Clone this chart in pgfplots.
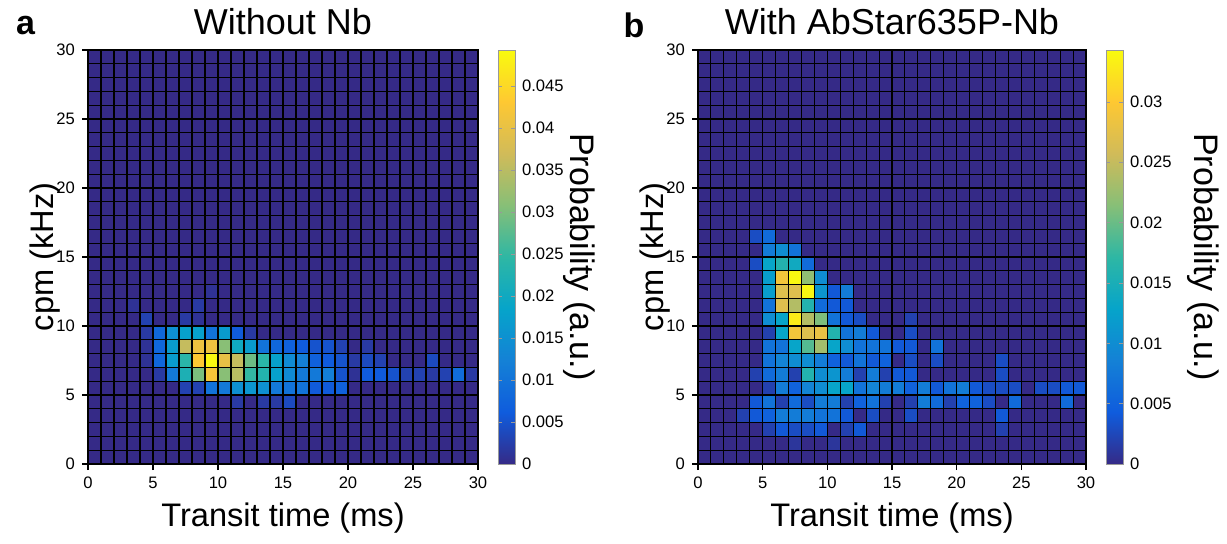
\documentclass[border=0pt]{standalone}
\usepackage{fontspec}
\setmainfont{Liberation Sans}
\usepackage{pgfplots}
\usepackage{pgfplotstable}
\pgfplotsset{compat=1.18}
\pgfplotsset{colormap={parula}{rgb255=(53,42,135) rgb255=(15,92,221) rgb255=(20,129,214) rgb255=(6,164,202) rgb255=(46,183,164) rgb255=(135,191,119) rgb255=(209,187,89) rgb255=(254,200,50) rgb255=(249,251,14)}}

% left panel: value of each cell at its lower-left corner; 31 x 31 corners
% row j = 0 (bottom) ... 30, each row i = 0..30 (last column and row only close the grid)
\pgfplotstableread[row sep=\\,header=false]{
0\\0\\0\\0\\0\\0\\0\\0\\0\\0\\0\\0\\0\\0\\0\\0\\0\\0\\0\\0\\0\\0\\0\\0\\0\\0\\0\\0\\0\\0\\0\\
0\\0\\0\\0\\0\\0\\0\\0\\0\\0\\0\\0\\0\\0\\0\\0\\0\\0\\0\\0\\0\\0\\0\\0\\0\\0\\0\\0\\0\\0\\0\\
0\\0\\0\\0\\0\\0\\0\\0\\0\\0\\0\\0\\0\\0\\0\\0\\0\\0\\0\\0\\0\\0\\0\\0\\0\\0\\0\\0\\0\\0\\0\\
0\\0\\0\\0\\0\\0\\0\\0\\0\\0\\0\\0\\0\\0\\0\\0\\0\\0\\0\\0\\0\\0\\0\\0\\0\\0\\0\\0\\0\\0\\0\\
0\\0\\0\\0\\0\\0\\0\\0\\0\\0\\0\\0.002\\0\\0.002\\0.002\\0.004\\0\\0\\0\\0\\0\\0\\0\\0\\0\\0\\0\\0\\0\\0\\0\\
0\\0\\0\\0\\0\\0\\0\\0.003\\0.003\\0.010\\0.011\\0.015\\0.016\\0.015\\0.011\\0.010\\0.010\\0.006\\0.006\\0.007\\0\\0\\0\\0\\0\\0\\0\\0\\0\\0\\0\\
0\\0\\0\\0\\0\\0.002\\0.011\\0.022\\0.030\\0.042\\0.031\\0.035\\0.025\\0.023\\0.018\\0.014\\0.011\\0.011\\0.012\\0.005\\0.001\\0.006\\0.006\\0.005\\0.003\\0.003\\0.002\\0.003\\0.009\\0.002\\0\\
0\\0\\0\\0\\0.001\\0.008\\0.017\\0.024\\0.043\\0.049\\0.040\\0.036\\0.029\\0.024\\0.018\\0.014\\0.012\\0.007\\0.006\\0.005\\0.002\\0.004\\0.003\\0\\0\\0\\0.004\\0\\0\\0\\0\\
0\\0\\0\\0\\0.001\\0.008\\0.017\\0.036\\0.041\\0.041\\0.031\\0.020\\0.017\\0.010\\0.008\\0.007\\0.006\\0.005\\0.005\\0.003\\0\\0.002\\0\\0\\0\\0\\0\\0\\0\\0\\0\\
0\\0\\0\\0\\0.002\\0.008\\0.015\\0.018\\0.018\\0.010\\0.017\\0.006\\0.002\\0\\0\\0\\0\\0\\0\\0\\0\\0\\0\\0\\0\\0\\0\\0\\0\\0\\0\\
0\\0\\0\\0\\0.003\\0\\0\\0.002\\0.001\\0\\0\\0\\0\\0\\0\\0\\0\\0\\0\\0\\0\\0\\0\\0\\0\\0\\0\\0\\0\\0\\0\\
0\\0\\0\\0.001\\0\\0\\0\\0\\0.002\\0\\0\\0\\0\\0\\0\\0\\0\\0\\0\\0\\0\\0\\0\\0\\0\\0\\0\\0\\0\\0\\0\\
0\\0\\0\\0\\0\\0\\0\\0\\0\\0.001\\0\\0\\0\\0\\0\\0\\0\\0\\0\\0\\0\\0\\0\\0\\0\\0\\0\\0\\0\\0\\0\\
0\\0\\0\\0\\0\\0\\0\\0\\0\\0\\0\\0\\0\\0\\0\\0\\0\\0\\0\\0\\0\\0\\0\\0\\0\\0\\0\\0\\0\\0\\0\\
0\\0\\0\\0\\0\\0\\0\\0\\0\\0\\0\\0\\0\\0\\0\\0\\0\\0\\0\\0\\0\\0\\0\\0\\0\\0\\0\\0\\0\\0\\0\\
0\\0\\0\\0\\0\\0\\0\\0\\0\\0\\0\\0\\0\\0\\0\\0\\0\\0\\0\\0\\0\\0\\0\\0\\0\\0\\0\\0\\0\\0\\0\\
0\\0\\0\\0\\0\\0\\0\\0\\0\\0\\0\\0\\0\\0\\0\\0\\0\\0\\0\\0\\0\\0\\0\\0\\0\\0\\0\\0\\0\\0\\0\\
0\\0\\0\\0\\0\\0\\0\\0\\0\\0\\0\\0\\0\\0\\0\\0\\0\\0\\0\\0\\0\\0\\0\\0\\0\\0\\0\\0\\0\\0\\0\\
0\\0\\0\\0\\0\\0\\0\\0\\0\\0\\0\\0\\0\\0\\0\\0\\0\\0\\0\\0\\0\\0\\0\\0\\0\\0\\0\\0\\0\\0\\0\\
0\\0\\0\\0\\0\\0\\0\\0\\0\\0\\0\\0\\0\\0\\0\\0\\0\\0\\0\\0\\0\\0\\0\\0\\0\\0\\0\\0\\0\\0\\0\\
0\\0\\0\\0\\0\\0\\0\\0\\0\\0\\0\\0\\0\\0\\0\\0\\0\\0\\0\\0\\0\\0\\0\\0\\0\\0\\0\\0\\0\\0\\0\\
0\\0\\0\\0\\0\\0\\0\\0\\0\\0\\0\\0\\0\\0\\0\\0\\0\\0\\0\\0\\0\\0\\0\\0\\0\\0\\0\\0\\0\\0\\0\\
0\\0\\0\\0\\0\\0\\0\\0\\0\\0\\0\\0\\0\\0\\0\\0\\0\\0\\0\\0\\0\\0\\0\\0\\0\\0\\0\\0\\0\\0\\0\\
0\\0\\0\\0\\0\\0\\0\\0\\0\\0\\0\\0\\0\\0\\0\\0\\0\\0\\0\\0\\0\\0\\0\\0\\0\\0\\0\\0\\0\\0\\0\\
0\\0\\0\\0\\0\\0\\0\\0\\0\\0\\0\\0\\0\\0\\0\\0\\0\\0\\0\\0\\0\\0\\0\\0\\0\\0\\0\\0\\0\\0\\0\\
0\\0\\0\\0\\0\\0\\0\\0\\0\\0\\0\\0\\0\\0\\0\\0\\0\\0\\0\\0\\0\\0\\0\\0\\0\\0\\0\\0\\0\\0\\0\\
0\\0\\0\\0\\0\\0\\0\\0\\0\\0\\0\\0\\0\\0\\0\\0\\0\\0\\0\\0\\0\\0\\0\\0\\0\\0\\0\\0\\0\\0\\0\\
0\\0\\0\\0\\0\\0\\0\\0\\0\\0\\0\\0\\0\\0\\0\\0\\0\\0\\0\\0\\0\\0\\0\\0\\0\\0\\0\\0\\0\\0\\0\\
0\\0\\0\\0\\0\\0\\0\\0\\0\\0\\0\\0\\0\\0\\0\\0\\0\\0\\0\\0\\0\\0\\0\\0\\0\\0\\0\\0\\0\\0\\0\\
0\\0\\0\\0\\0\\0\\0\\0\\0\\0\\0\\0\\0\\0\\0\\0\\0\\0\\0\\0\\0\\0\\0\\0\\0\\0\\0\\0\\0\\0\\0\\
0\\0\\0\\0\\0\\0\\0\\0\\0\\0\\0\\0\\0\\0\\0\\0\\0\\0\\0\\0\\0\\0\\0\\0\\0\\0\\0\\0\\0\\0\\0\\
}\lefttab

% right panel
\pgfplotstableread[row sep=\\,header=false]{
0\\0\\0\\0\\0\\0\\0\\0\\0\\0\\0\\0\\0\\0\\0\\0\\0\\0\\0\\0\\0\\0\\0\\0\\0\\0\\0\\0\\0\\0\\0\\
0\\0\\0\\0\\0\\0\\0\\0.001\\0\\0\\0.001\\0\\0\\0\\0\\0\\0\\0\\0\\0\\0\\0\\0\\0\\0\\0\\0\\0\\0\\0\\0\\
0\\0\\0\\0\\0\\0.002\\0.004\\0.003\\0.003\\0.004\\0\\0.002\\0.004\\0\\0\\0\\0\\0\\0\\0\\0\\0\\0\\0.002\\0\\0\\0\\0\\0\\0\\0\\
0\\0\\0\\0.002\\0.004\\0.005\\0.008\\0.008\\0.008\\0.007\\0.007\\0.004\\0\\0.003\\0\\0\\0.003\\0\\0\\0\\0\\0\\0\\0.004\\0\\0\\0\\0\\0\\0\\0\\
0\\0\\0\\0\\0.004\\0.007\\0.002\\0.006\\0.003\\0.008\\0.008\\0.002\\0.005\\0.007\\0.002\\0\\0.002\\0.008\\0.006\\0.002\\0.005\\0.005\\0.003\\0\\0.006\\0\\0\\0\\0.006\\0\\0\\
0\\0\\0\\0\\0\\0.002\\0.008\\0.005\\0.009\\0.010\\0.013\\0.013\\0.007\\0.009\\0.008\\0.008\\0.005\\0.008\\0.004\\0.007\\0.008\\0.004\\0.003\\0.003\\0.003\\0\\0.003\\0.003\\0.004\\0.004\\0\\
0\\0\\0\\0\\0.002\\0.006\\0.008\\0.002\\0.016\\0.010\\0.011\\0.008\\0.002\\0.008\\0.002\\0.004\\0.004\\0\\0\\0\\0\\0\\0\\0.003\\0\\0\\0\\0\\0\\0\\0\\
0\\0\\0\\0\\0\\0.007\\0.009\\0.010\\0.010\\0.008\\0.005\\0.004\\0.007\\0.004\\0.005\\0\\0.003\\0\\0.003\\0\\0\\0\\0\\0.003\\0\\0\\0\\0\\0\\0\\0\\
0\\0\\0\\0\\0\\0.007\\0.007\\0.013\\0.019\\0.023\\0.013\\0.010\\0.007\\0.007\\0.007\\0.004\\0.004\\0\\0.007\\0\\0\\0\\0\\0\\0\\0\\0\\0\\0\\0\\0\\
0\\0\\0\\0\\0\\0.002\\0.013\\0.029\\0.027\\0.028\\0.016\\0.007\\0.008\\0.004\\0\\0\\0.003\\0\\0\\0\\0\\0\\0\\0\\0\\0\\0\\0\\0\\0\\0\\
0\\0\\0\\0\\0\\0.010\\0.013\\0.033\\0.024\\0.021\\0.007\\0.004\\0.003\\0\\0\\0\\0.002\\0\\0\\0\\0\\0\\0\\0\\0\\0\\0\\0\\0\\0\\0\\
0\\0\\0\\0\\0\\0.007\\0.027\\0.024\\0.016\\0.006\\0.004\\0.004\\0\\0\\0\\0\\0\\0\\0\\0\\0\\0\\0\\0\\0\\0\\0\\0\\0\\0\\0\\
0\\0\\0\\0\\0\\0.012\\0.027\\0.027\\0.034\\0.011\\0.004\\0.008\\0\\0\\0\\0\\0\\0\\0\\0\\0\\0\\0\\0\\0\\0\\0\\0\\0\\0\\0\\
0\\0\\0\\0\\0\\0.012\\0.029\\0.034\\0.022\\0.010\\0\\0\\0\\0\\0\\0\\0\\0\\0\\0\\0\\0\\0\\0\\0\\0\\0\\0\\0\\0\\0\\
0\\0\\0\\0\\0.003\\0.013\\0.016\\0.014\\0.006\\0\\0\\0\\0\\0\\0\\0\\0\\0\\0\\0\\0\\0\\0\\0\\0\\0\\0\\0\\0\\0\\0\\
0\\0\\0\\0\\0\\0.008\\0.010\\0.007\\0\\0\\0\\0\\0\\0\\0\\0\\0\\0\\0\\0\\0\\0\\0\\0\\0\\0\\0\\0\\0\\0\\0\\
0\\0\\0\\0\\0.003\\0.006\\0\\0\\0\\0\\0\\0\\0\\0\\0\\0\\0\\0\\0\\0\\0\\0\\0\\0\\0\\0\\0\\0\\0\\0\\0\\
0\\0\\0\\0\\0\\0\\0\\0\\0\\0\\0\\0\\0\\0\\0\\0\\0\\0\\0\\0\\0\\0\\0\\0\\0\\0\\0\\0\\0\\0\\0\\
0\\0\\0\\0\\0\\0\\0\\0\\0\\0\\0\\0\\0\\0\\0\\0\\0\\0\\0\\0\\0\\0\\0\\0\\0\\0\\0\\0\\0\\0\\0\\
0\\0\\0\\0\\0\\0\\0\\0\\0\\0\\0\\0\\0\\0\\0\\0\\0\\0\\0\\0\\0\\0\\0\\0\\0\\0\\0\\0\\0\\0\\0\\
0\\0\\0\\0\\0\\0\\0\\0\\0\\0\\0\\0\\0\\0\\0\\0\\0\\0\\0\\0\\0\\0\\0\\0\\0\\0\\0\\0\\0\\0\\0\\
0\\0\\0\\0\\0\\0\\0\\0\\0\\0\\0\\0\\0\\0\\0\\0\\0\\0\\0\\0\\0\\0\\0\\0\\0\\0\\0\\0\\0\\0\\0\\
0\\0\\0\\0\\0\\0\\0\\0\\0\\0\\0\\0\\0\\0\\0\\0\\0\\0\\0\\0\\0\\0\\0\\0\\0\\0\\0\\0\\0\\0\\0\\
0\\0\\0\\0\\0\\0\\0\\0\\0\\0\\0\\0\\0\\0\\0\\0\\0\\0\\0\\0\\0\\0\\0\\0\\0\\0\\0\\0\\0\\0\\0\\
0\\0\\0\\0\\0\\0\\0\\0\\0\\0\\0\\0\\0\\0\\0\\0\\0\\0\\0\\0\\0\\0\\0\\0\\0\\0\\0\\0\\0\\0\\0\\
0\\0\\0\\0\\0\\0\\0\\0\\0\\0\\0\\0\\0\\0\\0\\0\\0\\0\\0\\0\\0\\0\\0\\0\\0\\0\\0\\0\\0\\0\\0\\
0\\0\\0\\0\\0\\0\\0\\0\\0\\0\\0\\0\\0\\0\\0\\0\\0\\0\\0\\0\\0\\0\\0\\0\\0\\0\\0\\0\\0\\0\\0\\
0\\0\\0\\0\\0\\0\\0\\0\\0\\0\\0\\0\\0\\0\\0\\0\\0\\0\\0\\0\\0\\0\\0\\0\\0\\0\\0\\0\\0\\0\\0\\
0\\0\\0\\0\\0\\0\\0\\0\\0\\0\\0\\0\\0\\0\\0\\0\\0\\0\\0\\0\\0\\0\\0\\0\\0\\0\\0\\0\\0\\0\\0\\
0\\0\\0\\0\\0\\0\\0\\0\\0\\0\\0\\0\\0\\0\\0\\0\\0\\0\\0\\0\\0\\0\\0\\0\\0\\0\\0\\0\\0\\0\\0\\
0\\0\\0\\0\\0\\0\\0\\0\\0\\0\\0\\0\\0\\0\\0\\0\\0\\0\\0\\0\\0\\0\\0\\0\\0\\0\\0\\0\\0\\0\\0\\
}\righttab

\pgfplotsset{
  heat/.style={
    scale only axis, width=#1, height=207pt,
    xmin=0, xmax=30, ymin=0, ymax=30, y dir=normal,
    xtick={0,1,...,30}, ytick={0,1,...,30},
    xticklabels={0,,,,,5,,,,,10,,,,,15,,,,,20,,,,,25,,,,,30},
    yticklabels={0,,,,,5,,,,,10,,,,,15,,,,,20,,,,,25,,,,,30},
    major tick length=0pt,
    extra x ticks={0,5,10,15,20,25,30}, extra y ticks={0,5,10,15,20,25,30},
    extra x tick labels={}, extra y tick labels={},
    extra tick style={xmajorgrids=false, ymajorgrids=false, xminorgrids=false, yminorgrids=false,
      major tick length=3pt, tick style={black, line width=0.6pt}},
    grid=major,
    major grid style={black, line width=0.55pt},
    axis on top,
    tick align=outside, tick pos=left,
    axis line style={black, line width=0.6pt},
    ticklabel style={font=\fontsize{8.3}{10}\selectfont},
    xticklabel style={yshift=-3pt}, yticklabel style={xshift=-3pt},
    xlabel={Transit time (ms)}, ylabel={cpm (kHz)},
    label style={font=\fontsize{16.3}{18}\selectfont},
    ylabel shift=-12pt, xlabel shift=-3pt,
    title style={font=\fontsize{18}{20}\selectfont, yshift=-2pt},
    colormap name=parula, colorbar, point meta min=0,
    clip=false,
  },
  cbar/.style={
    width=8.5pt,
    at={(parent axis.north east)}, anchor=north west, xshift=1.5pt,
    y dir=normal, scaled y ticks=false, grid=none,
    extra x ticks={}, extra y ticks={},
    axis line style={draw=gray!80, line width=0.4pt},
    tick style={draw=gray!80, line width=0.4pt}, major tick length=2pt,
    yticklabel style={font=\fontsize{8.3}{10}\selectfont, xshift=0pt},
    yticklabel pos=right, ylabel near ticks, ylabel shift=#1,
    ylabel={Probability (a.u.)},
    ylabel style={font=\fontsize{17}{18}\selectfont, rotate=180},
  },
  mat/.style={surf, shader=flat corner, mesh/cols=31, mesh/rows=31, point meta=explicit},
}

\begin{document}
\begin{tikzpicture}
\useasboundingbox (0,0) rectangle (613.5pt,271.5pt);
\begin{axis}[heat=195pt, at={(44pt,39.5pt)}, anchor=south west,
  title={Without Nb}, point meta max=0.0493,
  colorbar style={cbar=-7pt,
    ytick={0,0.005,0.01,0.015,0.02,0.025,0.03,0.035,0.04,0.045},
    yticklabels={0,0.005,0.01,0.015,0.02,0.025,0.03,0.035,0.04,0.045}}]
\addplot[mat] table[x index=0, y index=0, meta index=0, x expr={mod(\coordindex,31)}, y expr={floor((\coordindex+0.5)/31)}] {\lefttab};
\node[font=\bfseries\fontsize{17}{17}\selectfont] at (rel axis cs:-0.16,1.06) {a};
\end{axis}
\begin{axis}[heat=194pt, at={(349pt,39.5pt)}, anchor=south west,
  title={With AbStar635P-Nb}, point meta max=0.0343,
  colorbar style={cbar=1pt,
    ytick={0,0.005,0.01,0.015,0.02,0.025,0.03},
    yticklabels={0,0.005,0.01,0.015,0.02,0.025,0.03}}]
\addplot[mat] table[x index=0, y index=0, meta index=0, x expr={mod(\coordindex,31)}, y expr={floor((\coordindex+0.5)/31)}] {\righttab};
\node[font=\bfseries\fontsize{17}{17}\selectfont] at (rel axis cs:-0.165,1.06) {b};
\end{axis}
\end{tikzpicture}
\end{document}
